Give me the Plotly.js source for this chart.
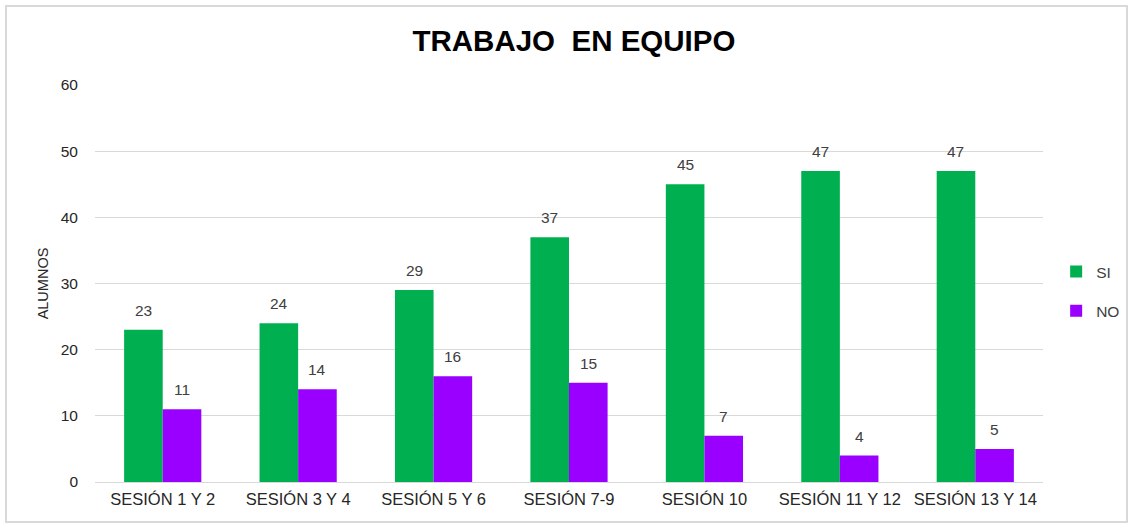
<!DOCTYPE html>
<html><head><meta charset="utf-8">
<script src="https://cdn.plot.ly/plotly-3.0.1.min.js"></script>
<style>
body{margin:0;padding:0;background:#fff;}
#wrap{position:relative;width:1132px;height:525px;}
#chart{position:absolute;left:0;top:0;width:1132px;height:525px;}
#frame{position:absolute;left:5px;top:5px;width:1119px;height:514px;border:2px solid #d9d9d9;pointer-events:none;}
</style></head>
<body>
<div id="wrap"><div id="chart"></div><div id="frame"></div></div>
<script>
const categories = ["SESIÓN 1 Y 2","SESIÓN 3 Y 4","SESIÓN 5 Y 6","SESIÓN 7-9","SESIÓN 10","SESIÓN 11 Y 12","SESIÓN 13 Y 14"];
const siValues = [23,24,29,37,45,47,47];
const noValues = [11,14,16,15,7,4,5];
const font = "Liberation Sans, Arial, sans-serif";
const bargap = 0.43;
const half = (1 - bargap) / 4;
const traces = [
  {type:'bar', name:'SI', x:categories, y:siValues, marker:{color:'#00B050'}, legendgroup:'a'},
  {type:'bar', name:'NO', x:categories, y:noValues, marker:{color:'#9900FF'}, legendgroup:'b'}
];
const annotations = [];
categories.forEach((c, i) => {
  annotations.push({xref:'x', yref:'y', x:i - half, y:siValues[i], text:String(siValues[i]),
    showarrow:false, yanchor:'bottom', yshift:9, font:{family:font,size:15.5,color:'#404040'}});
  annotations.push({xref:'x', yref:'y', x:i + half, y:noValues[i], text:String(noValues[i]),
    showarrow:false, yanchor:'bottom', yshift:9, font:{family:font,size:15.5,color:'#404040'}});
});
const layout = {
  width:1132, height:525,
  margin:{l:95,r:89,t:85,b:43},
  paper_bgcolor:'#fff', plot_bgcolor:'#fff',
  font:{family:font,size:15,color:'#404040'},
  title:{text:'<b>TRABAJO  EN EQUIPO</b>', font:{family:font,size:29.5,color:'#000'}, x:0.507, xanchor:'center', xref:'container', y:0.922, yanchor:'middle'},
  barmode:'group', bargap:bargap, bargroupgap:0,
  xaxis:{tickfont:{family:font,size:16.5,color:'#262626'}, showline:true, linecolor:'#d9d9d9', linewidth:1, ticks:'', ticklabelstandoff:2, fixedrange:true},
  yaxis:{range:[0,60], dtick:10, gridcolor:'#d9d9d9', zeroline:false, showline:false,
         tickfont:{family:font,size:15.5,color:'#262626'}, ticklabelstandoff:16,
         title:{text:'ALUMNOS', font:{family:font,size:14.5,color:'#262626'}, standoff:8}},
  legend:{xref:'container', x:0.933, y:0.48, xanchor:'left', yanchor:'middle', font:{family:font,size:15.5,color:'#404040'},
          traceorder:'grouped', tracegroupgap:16, itemwidth:30},
  annotations:annotations,
  showlegend:true
};
Plotly.newPlot('chart', traces, layout, {displayModeBar:false, staticPlot:true});
</script>
</body></html>
